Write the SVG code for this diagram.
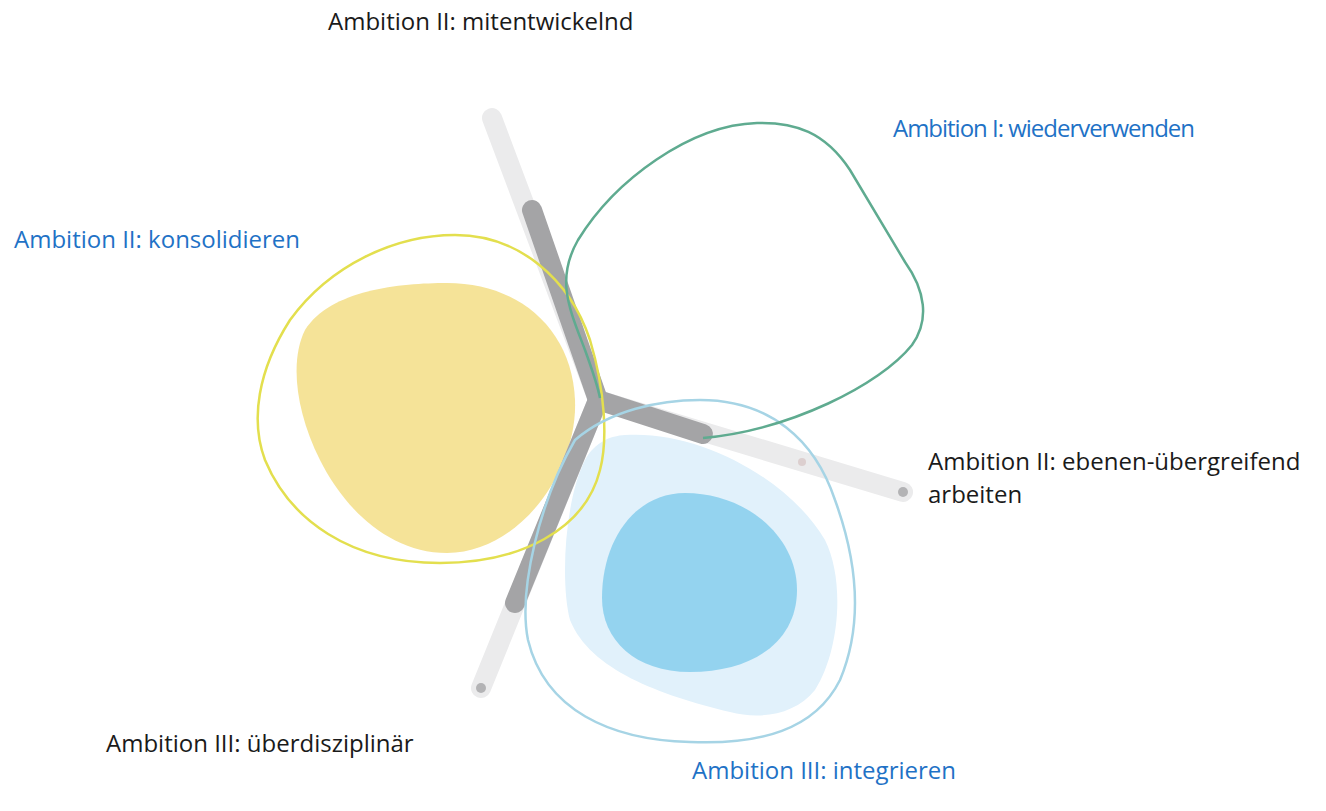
<svg xmlns="http://www.w3.org/2000/svg" width="1326" height="811" viewBox="0 0 1326 811">
  <style>
    .lbl { font-family: "Open Sans", "Noto Sans", "Liberation Sans", sans-serif; font-size: 24px; fill: #1a1a1a; }
    .blu { font-family: "Open Sans", "Noto Sans", "Liberation Sans", sans-serif; font-size: 24px; fill: #1f72c6; }
    .lightbar { stroke: #ebebec; stroke-width: 20; stroke-linecap: round; fill: none; }
    .darkbar { stroke: #a4a4a6; stroke-width: 20; stroke-linecap: round; fill: none; }
    .enddot { fill: #b3b3b5; }
    .outline { fill: none; stroke-width: 2.5; }
  </style>
  <rect width="1326" height="811" fill="#ffffff"/>

  <g id="shape-konsolidieren">
    <path d="M 447 283 C 520 283 572 330 575 400 C 578 470 520 553 447 553 C 390 553 345 510 320 460 C 295 410 290 360 305 330 C 330 290 400 283 447 283 Z" fill="#f5e398"/>
  </g>
  <g id="shape-integrieren">
    <path d="M 625 435 C 700 430 790 480 825 540 C 845 580 840 650 815 690 C 795 715 760 720 730 712 C 660 695 590 670 570 620 C 560 580 565 500 585 460 C 595 442 610 436 625 435 Z" fill="#e1f1fb"/>
    <path d="M 685 493 C 745 493 797 535 797 590 C 797 640 755 672 690 672 C 635 672 602 640 602 598 C 602 540 635 493 685 493 Z" fill="#94d3ef"/>
  </g>

  <g id="connectors">
    <line class="lightbar" x1="598" y1="400" x2="492" y2="118"/>
    <line class="lightbar" x1="598" y1="400" x2="903" y2="492"/>
    <line class="lightbar" x1="598" y1="400" x2="481" y2="688"/>
    <circle class="enddot" cx="903" cy="492" r="5"/>
    <circle class="enddot" cx="481" cy="688" r="5"/>
    <circle cx="802" cy="462" r="4" fill="#dccfcf"/>
    <line class="darkbar" x1="532" y1="210" x2="598" y2="400"/>
    <line class="darkbar" x1="598" y1="400" x2="703" y2="434"/>
    <line class="darkbar" x1="598" y1="400" x2="515" y2="603"/>
  </g>

  <g id="outline-konsolidieren">
    <path class="outline" stroke="#e3df4e" d="M 455 235 C 520 235 570 280 590 340 C 605 390 608 440 600 470 C 585 530 520 563 440 563 C 350 563 290 520 265 460 C 250 420 258 370 290 320 C 330 265 395 235 455 235 Z"/>
  </g>
  <g id="outline-integrieren">
    <path class="outline" stroke="#a6d4e5" d="M 700 400 C 770 400 815 440 835 500 C 855 555 865 620 840 680 C 815 730 760 745 690 742 C 610 740 545 710 528 640 C 518 590 540 500 575 440 C 610 410 660 400 700 400 Z"/>
  </g>
  <g id="outline-wiederverwenden">
    <path class="outline" stroke="#5fab90" d="M 703 438 C 790 430 880 385 912 345 C 930 320 925 290 905 262 L 850 170 C 825 132 795 122 757 123 C 690 125 615 180 578 240 C 555 280 570 310 585 350 C 593 372 598 388 600 398"/>
  </g>

  <g id="label-mitentwickelnd"><text class="lbl" x="328" y="30">Ambition II: mitentwickelnd</text></g>
  <g id="label-wiederverwenden"><text class="blu" x="893" y="137" textLength="302">Ambition I: wiederverwenden</text></g>
  <g id="label-konsolidieren"><text class="blu" x="14" y="248">Ambition II: konsolidieren</text></g>
  <g id="label-ebenen"><text class="lbl" x="928" y="470">Ambition II: ebenen-übergreifend</text><text class="lbl" x="928" y="503">arbeiten</text></g>
  <g id="label-ueberdisziplinaer"><text class="lbl" x="106" y="752">Ambition III: überdisziplinär</text></g>
  <g id="label-integrieren"><text class="blu" x="692" y="779">Ambition III: integrieren</text></g>
</svg>
